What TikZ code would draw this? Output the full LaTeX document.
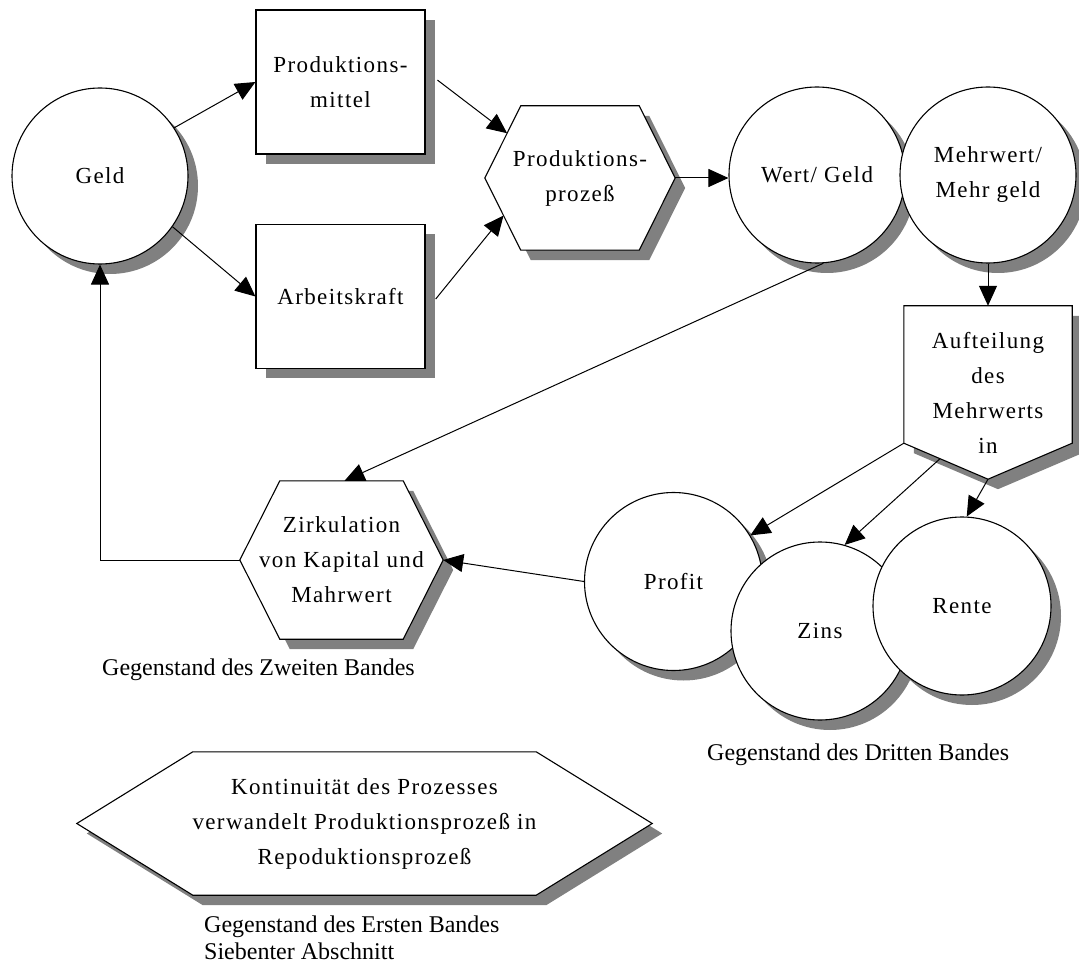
\documentclass[tikz,border=0pt]{standalone}
\usepackage{fontspec}
\setmainfont{Liberation Serif}
\newfontfamily\labelfont[LetterSpace=6]{Liberation Serif}
\usetikzlibrary{arrows.meta,shadows,calc}
\pgfdeclarelayer{background}
\pgfsetlayers{background,main}
\definecolor{shadegray}{RGB}{128,128,128}
\tikzset{
  dropgray/.style={drop shadow={shadow xshift=10pt,shadow yshift=-10pt,fill=shadegray,opacity=1}},
  outline/.style={draw=black,line width=1.1pt,fill=white,dropgray},
  lbl/.style={font=\labelfont\fontsize{23}{35}\selectfont,align=center,inner sep=0pt},
  roundnode/.style={lbl,circle,outline,minimum size=176pt},
  boxnode/.style={lbl,rectangle,outline,minimum width=169pt,minimum height=144pt},
  framenode/.style={lbl,rectangle,draw=none},
  conn/.style={line width=1pt,-{Triangle[length=20pt,width=18pt]}},
  caption/.style={font=\fontsize{24}{24}\selectfont,anchor=base west,inner sep=0pt}
}
\begin{document}
\begin{tikzpicture}[x=1pt,y=-1pt]
\useasboundingbox (0,0) rectangle (1079,965);

% ---- nodes with their own outline ----
\node[roundnode] (geld) at (100,176) {Geld};
\node[boxnode] (pm) at (340.5,82) {Produktions-\\mittel};
\node[boxnode] (ak) at (340.5,296.5) {Arbeitskraft};
\node[roundnode] (wg) at (817,175) {Wert/ Geld};
\node[roundnode] (mw) at (988,175) {Mehrwert/\\Mehr geld};
\node[roundnode,minimum size=178pt] (profit) at (673.5,581.5) {Profit};
\node[roundnode,minimum size=178pt] (zins) at (820,631) {Zins};
\node[roundnode,minimum size=178pt] (rente) at (962,606) {Rente};

% ---- hexagons and pentagon: text frames, outlines behind them ----
\node[framenode,minimum width=190pt,minimum height=144pt] (pp) at (580,178) {Produktions-\\prozeß};
\node[framenode,minimum width=203pt,minimum height=158pt] (zk) at (341.5,560) {Zirkulation\\von Kapital und\\Mahrwert};
\node[framenode,minimum width=168pt,minimum height=173pt] (auf) at (988,392.5) {Aufteilung\\des\\Mehrwerts\\in};
\node[framenode,minimum width=575pt,minimum height=143pt] (kont) at (364.5,823.5) {Kontinuität des Prozesses\\verwandelt Produktionsprozeß in\\Repoduktionsprozeß};

\begin{pgfonlayer}{background}
  \path[outline] (pp.west) -- ([xshift=36pt]pp.north west) -- ([xshift=-36pt]pp.north east)
    -- (pp.east) -- ([xshift=-36pt]pp.south east) -- ([xshift=36pt]pp.south west) -- cycle;
  \path[outline] (zk.west) -- ([xshift=40pt]zk.north west) -- ([xshift=-40pt]zk.north east)
    -- (zk.east) -- ([xshift=-40pt]zk.south east) -- ([xshift=40pt]zk.south west) -- cycle;
  \path[outline] (kont.west) -- ([xshift=116pt]kont.north west) -- ([xshift=-116pt]kont.north east)
    -- (kont.east) -- ([xshift=-116pt]kont.south east) -- ([xshift=116pt]kont.south west) -- cycle;
  \path[outline] (auf.north west) -- (auf.north east) -- ([yshift=36pt]auf.south east)
    -- (auf.south) -- ([yshift=36pt]auf.south west) -- cycle;
\end{pgfonlayer}

% ---- points on the slanted edges ----
\coordinate (ppUp) at ($(pp.west)!0.62!([xshift=36pt]pp.north west)$);
\coordinate (ppLow) at ($(pp.west)!0.52!([xshift=36pt]pp.south west)$);
\coordinate (aufL) at ([yshift=36pt]auf.south west);
\coordinate (aufMid) at ($(aufL)!0.43!(auf.south)$);

% ---- connectors ----
\draw[conn] (geld.33) -- (pm.west);
\draw[conn] (geld.-35) -- (ak.west);
\draw[conn,shorten <=15pt] ([yshift=11pt]pm.east) -- (ppUp);
\draw[conn,shorten <=16pt] ([yshift=-15pt]ak.east) -- (ppLow);
\draw[conn] (pp.east) -- (pp.east -| wg.west);
\draw[conn] (mw.south) -- (auf.north);
\draw[conn] (wg.-86) -- ([xshift=3pt]zk.north);
\draw[conn] (profit.west) -- (zk.east);
\draw[conn] (aufL) -- (profit);
\draw[conn] (aufMid) -- (zins.74);
\draw[conn] (auf.south) -- (rente.87);
\draw[conn] (zk.west) -| (geld.south);

% ---- captions ----
\node[caption] (cap2) at (102,675) {Gegenstand des Zweiten Bandes};
\node[caption] (cap3) at (707,760) {Gegenstand des Dritten Bandes};
\node[caption] (cap1) at (204,932) {Gegenstand des Ersten Bandes};
\node[caption] (cap1b) at (204,959) {Siebenter Abschnitt};
\end{tikzpicture}
\end{document}
